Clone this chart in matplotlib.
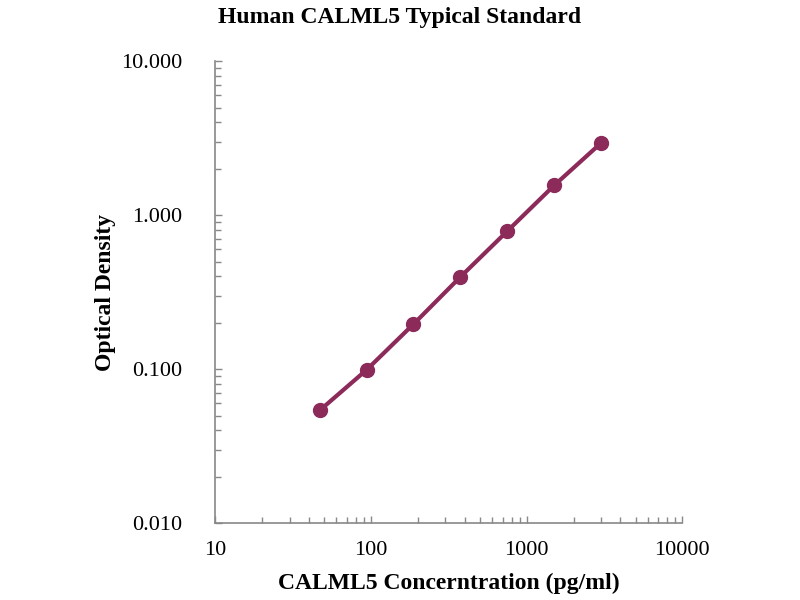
import matplotlib
matplotlib.use("Agg")
import matplotlib.pyplot as plt
from matplotlib.ticker import LogLocator, FixedLocator, FixedFormatter, NullFormatter

concentration = [46.875, 93.75, 187.5, 375, 750, 1500, 3000]
optical_density = [0.054, 0.099, 0.196, 0.397, 0.787, 1.56, 2.94]
x_ticks = [10, 100, 1000, 10000]
x_tick_labels = ["10", "100", "1000", "10000"]
y_ticks = [0.01, 0.1, 1, 10]
y_tick_labels = ["0.010", "0.100", "1.000", "10.000"]

plt.rcParams['font.family'] = ['Liberation Serif', 'DejaVu Serif']

fig = plt.figure(figsize=(8, 6), dpi=100)
ax = fig.add_axes([0.269, 0.128, 0.584, 0.770])

color = "#8C2A5A"
ax.plot(concentration, optical_density, color=color, linewidth=3,
        marker='o', markersize=10, markerfacecolor=color, markeredgecolor=color)

ax.set_xscale('log')
ax.set_yscale('log')
ax.set_xlim(10, 10000)
ax.set_ylim(0.01, 10)

ax.xaxis.set_major_locator(FixedLocator(x_ticks))
ax.xaxis.set_major_formatter(FixedFormatter(x_tick_labels))
ax.yaxis.set_major_locator(FixedLocator(y_ticks))
ax.yaxis.set_major_formatter(FixedFormatter(y_tick_labels))
ax.xaxis.set_minor_locator(LogLocator(base=10, subs=range(2, 10), numticks=20))
ax.yaxis.set_minor_locator(LogLocator(base=10, subs=range(2, 10), numticks=20))
ax.xaxis.set_minor_formatter(NullFormatter())
ax.yaxis.set_minor_formatter(NullFormatter())

for s in ['top', 'right']:
    ax.spines[s].set_visible(False)
for s in ['left', 'bottom']:
    ax.spines[s].set_color('#888888')
    ax.spines[s].set_linewidth(1.2)

ax.tick_params(which='both', direction='in', color='#888888', width=1)
ax.tick_params(which='major', length=5)
ax.tick_params(which='minor', length=4)
ax.tick_params(axis='y', which='major', pad=24, labelsize=16)
ax.tick_params(axis='x', which='major', pad=13, labelsize=16)

ax.set_xlabel("CALML5 Concerntration (pg/ml)", fontsize=17, fontweight='bold', labelpad=9)
ax.set_ylabel("Optical Density", fontsize=17, fontweight='bold', labelpad=3)
fig.text(0.5, 0.988, "Human CALML5 Typical Standard", ha='center', va='top',
         fontsize=17, fontweight='bold')

fig.savefig("out.png", dpi=100)
